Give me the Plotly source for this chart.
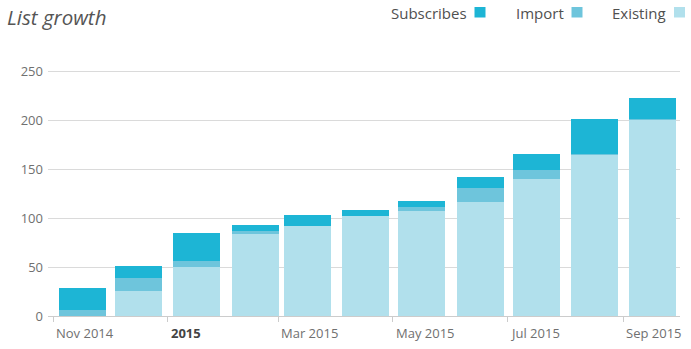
import plotly.graph_objects as go

months = ["2014-11-01", "2014-12-01", "2015-01-01", "2015-02-01", "2015-03-01", "2015-04-01",
          "2015-05-01", "2015-06-01", "2015-07-01", "2015-08-01", "2015-09-01"]
existing = [0, 25.5, 50, 84, 92, 102, 107, 116.5, 140, 164.5, 200.5]
imported = [6, 13, 6, 3, 0, 0, 4, 14, 9, 1, 0.5]
subscribes = [23, 12.5, 29, 6, 11, 6, 6.5, 11.5, 16.5, 36, 21.5]

tick_vals = ["2014-11-01", "2015-01-01", "2015-03-01", "2015-05-01", "2015-07-01", "2015-09-01"]
tick_text = ["Nov 2014", "<b>2015</b>", "Mar 2015", "May 2015", "Jul 2015", "Sep 2015"]
y_ticks = [0, 50, 100, 150, 200, 250]

series_names = ["Subscribes", "Import", "Existing"]
colors = {"Subscribes": "#1db5d5", "Import": "#6ec5dc", "Existing": "#b1e0ec"}

DAY = 86400000
W, H = 691, 349
ml, mr, mt, mb = 48, 11, 62, 33
pw, ph = W - ml - mr, H - mt - mb

fig = go.Figure()
for name, vals in [("Existing", existing), ("Import", imported), ("Subscribes", subscribes)]:
    fig.add_trace(go.Bar(x=months, y=vals, name=name, marker_color=colors[name],
                         marker_line_width=0, width=25.07 * DAY, offset=3.04 * DAY,
                         showlegend=False))

FONT = "Open Sans"
annotations = []
for v, t in zip(tick_vals, tick_text):
    annotations.append(dict(x=v, y=0, xref="x", yref="paper", text=t, showarrow=False,
                            xanchor="left", yanchor="top", xshift=1, yshift=-6,
                            font=dict(family=FONT, size=13,
                                      color="#444" if "<b>" in t else "#707070")))

def px_x(p):
    return (p - ml) / pw

def px_y(p):
    return (H - mb - p) / ph

legend_pos = {"Subscribes": (469, 474.5), "Import": (566, 571.5), "Existing": (668, 674)}
shapes = []
for name in series_names:
    tx, sx = legend_pos[name]
    annotations.append(dict(x=px_x(tx), y=px_y(13), xref="paper", yref="paper", text=name,
                            showarrow=False, xanchor="right", yanchor="middle",
                            font=dict(family=FONT, size=15, color="#505050")))
    shapes.append(dict(type="rect", xref="paper", yref="paper",
                       x0=px_x(sx), x1=px_x(sx + 11), y0=px_y(17.5), y1=px_y(7),
                       fillcolor=colors[name], line_width=0))

# title as annotation for precise placement
annotations.append(dict(x=px_x(5), y=px_y(17), xref="paper", yref="paper", text="List growth",
                        showarrow=False, xanchor="left", yanchor="middle",
                        font=dict(family=FONT, size=20.5, color="#555555", style="italic")))

fig.update_layout(
    width=W, height=H,
    margin=dict(l=ml, r=mr, t=mt, b=mb),
    barmode="stack",
    paper_bgcolor="white", plot_bgcolor="white",
    xaxis=dict(type="date", range=["2014-10-29 04:00", "2015-10-01 05:00"],
               tickvals=tick_vals, showticklabels=False, ticks="outside", ticklen=5,
               tickcolor="#cccccc", showgrid=False, showline=True, linecolor="#cccccc",
               linewidth=1, zeroline=False),
    yaxis=dict(range=[0, 259.5], tickvals=y_ticks, showgrid=True, gridcolor="#dadada",
               gridwidth=1, zeroline=False, showline=False, ticks="",
               tickfont=dict(family=FONT, size=13, color="#707070"), ticklabelstandoff=4),
    annotations=annotations,
    shapes=shapes,
    bargap=0,
)

fig.write_html("out.html")
